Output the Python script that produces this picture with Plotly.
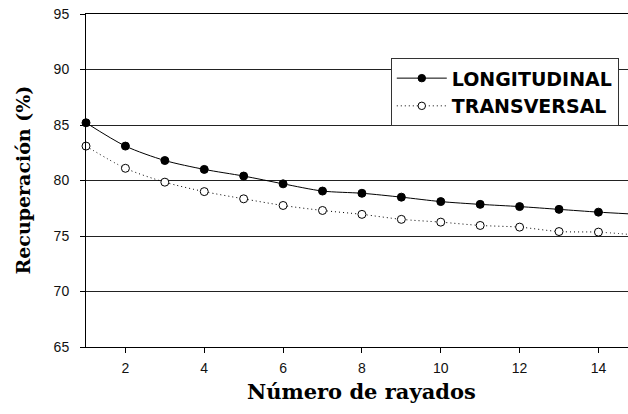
import plotly.graph_objects as go

# Número de rayados (1..14) and recovery values (%)
rayados = list(range(1, 15))
longitudinal = [85.2, 83.1, 81.8, 81.0, 80.4, 79.7, 79.05, 78.85, 78.5, 78.1, 77.85, 77.65, 77.4, 77.15]
transversal = [83.1, 81.1, 79.85, 79.0, 78.35, 77.75, 77.3, 76.95, 76.5, 76.25, 75.95, 75.8, 75.4, 75.35]

# trend curves continue to the right border of the plot
x_end = 14.75
longitudinal_end = 77.0
transversal_end = 75.15

y_ticks = [65, 70, 75, 80, 85, 90, 95]
x_ticks = [2, 4, 6, 8, 10, 12, 14]

xs = rayados + [x_end]
sizes = [8] * len(rayados) + [0]

fig = go.Figure()
fig.add_trace(go.Scatter(
    x=xs, y=longitudinal + [longitudinal_end],
    name="LONGITUDINAL", mode="lines+markers",
    line=dict(color="black", width=1, shape="spline", smoothing=0.8),
    marker=dict(symbol="circle", size=sizes, color="black", opacity=1,
                line=dict(color="black", width=1)),
    cliponaxis=False,
))
fig.add_trace(go.Scatter(
    x=xs, y=transversal + [transversal_end],
    name="TRANSVERSAL", mode="lines+markers",
    line=dict(color="black", width=1, dash="1px,3px", shape="spline", smoothing=0.8),
    marker=dict(symbol="circle", size=sizes, color="white", opacity=1,
                line=dict(color="black", width=1)),
    cliponaxis=False,
))

tick_font = dict(family="Liberation Sans, Arial, sans-serif", size=14, color="#111")
x_title_font = dict(family="DejaVu Serif, serif", size=21, color="black", weight="bold")
y_title_font = dict(family="DejaVu Serif, serif", size=19, color="black", weight="bold")

fig.update_layout(
    width=628, height=414,
    margin=dict(l=86, r=0, t=14, b=67),
    paper_bgcolor="white", plot_bgcolor="white",
    showlegend=True,
    legend=dict(
        x=0.983, y=0.867, xanchor="right", yanchor="top",
        bgcolor="white", bordercolor="#333", borderwidth=1,
        font=dict(family="DejaVu Sans, Arial, sans-serif", size=19, color="black", weight="bold"),
        itemwidth=50, tracegroupgap=0,
    ),
    xaxis=dict(
        range=[1, x_end], tickvals=x_ticks, showgrid=False, zeroline=False,
        showline=True, linecolor="black", linewidth=1, mirror=True,
        ticks="outside", ticklen=5, tickcolor="black", tickfont=tick_font,
        ticklabelstandoff=3,
    ),
    yaxis=dict(
        range=[65, 95], tickvals=y_ticks, showgrid=True, gridcolor="#222", gridwidth=1,
        zeroline=False, showline=True, linecolor="black", linewidth=1,
        ticks="outside", ticklen=5, tickcolor="black", tickfont=tick_font,
        ticklabelstandoff=8,
    ),
    annotations=[
        dict(text="Número de rayados", xref="paper", yref="paper", x=0.508, y=-0.135,
             xanchor="center", yanchor="middle", showarrow=False, font=x_title_font),
        dict(text="Recuperación (%)", xref="paper", yref="paper", x=-0.118, y=0.5,
             xanchor="center", yanchor="middle", showarrow=False, textangle=-90, font=y_title_font),
    ],
)

fig.write_html("out.html")
